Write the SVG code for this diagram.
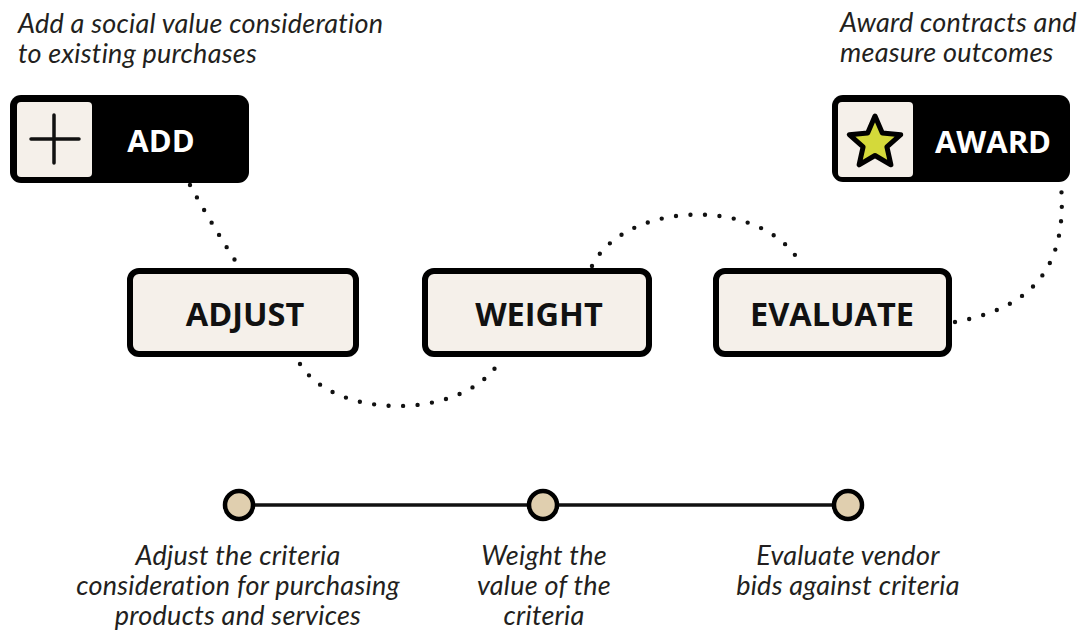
<svg xmlns="http://www.w3.org/2000/svg" width="1081" height="637" viewBox="0 0 1081 637">
<style>
.cap{font-family:"Lato","Open Sans",sans-serif;font-style:italic;font-size:27px;letter-spacing:0.25px;fill:#231f20}
.lbl{font-family:"Open Sans","Liberation Sans",sans-serif;font-weight:700;font-size:32.5px;fill:#111}
.wl{font-family:"Open Sans","Liberation Sans",sans-serif;font-weight:700;font-size:31px;fill:#fff}
.box{fill:#f5f0ea;stroke:#000;stroke-width:6}
.dark{fill:#000}
.icon{fill:#f5f0ea}
.dot{fill:none;stroke:#111;stroke-width:4.4;stroke-linecap:round;stroke-dasharray:0 14.5}
.tl{stroke:#111;stroke-width:3.5}
.tc{fill:#e0cfaf;stroke:#000;stroke-width:4.5}
</style>
<rect width="1081" height="637" fill="#fff"/>
<g id="connectors">
<path class="dot" d="M190,185 Q212,225 240,268"/>
<path class="dot" d="M300,364 C335,420 460,420 498,364"/>
<path class="dot" d="M592,266 C625,200 765,195 802,266"/>
<path class="dot" d="M955,322 C1030,308 1068,270 1061,185"/>
</g>
<g id="add">
<rect class="dark" x="10" y="95" width="239" height="88" rx="11"/>
<rect class="icon" x="17" y="102" width="75" height="75" rx="4"/>
<path d="M31,139H79M54,115V163" stroke="#111" stroke-width="3.5" stroke-linecap="round"/>
<text class="wl" x="161" y="152" text-anchor="middle">ADD</text>
</g>
<g id="award">
<rect class="dark" x="832" y="95" width="238" height="87" rx="11"/>
<rect class="icon" x="838" y="102" width="75" height="75" rx="4"/>
<polygon points="875,116 882.3,132.9 900.7,134.7 886.9,146.9 890.9,164.8 875,155.5 859.1,164.8 863.1,146.9 849.3,134.7 867.7,132.9" fill="#d4d93a" stroke="#000" stroke-width="5" stroke-linejoin="round"/>
<text class="wl" x="993" y="153" text-anchor="middle">AWARD</text>
</g>
<g id="adjust">
<rect class="box" x="130" y="271" width="226" height="83" rx="9"/>
<text class="lbl" x="245" y="326" text-anchor="middle">ADJUST</text>
</g>
<g id="weight">
<rect class="box" x="425" y="271" width="224" height="83" rx="9"/>
<text class="lbl" x="539" y="326" text-anchor="middle">WEIGHT</text>
</g>
<g id="evaluate">
<rect class="box" x="716" y="271" width="233" height="83" rx="9"/>
<text class="lbl" x="832" y="326" text-anchor="middle">EVALUATE</text>
</g>
<g id="caption-add">
<text class="cap" x="18" y="33">Add a social value consideration</text>
<text class="cap" x="18" y="63">to existing purchases</text>
</g>
<g id="caption-award">
<text class="cap" x="840" y="32">Award contracts and</text>
<text class="cap" x="840" y="62">measure outcomes</text>
</g>
<g id="timeline">
<line class="tl" x1="239" y1="505" x2="848" y2="505"/>
<circle class="tc" cx="239" cy="505" r="14"/>
<circle class="tc" cx="543" cy="505" r="14"/>
<circle class="tc" cx="848" cy="505" r="14"/>
</g>
<g id="caption-steps">
<text class="cap" text-anchor="middle" x="238" y="565">Adjust the criteria</text>
<text class="cap" text-anchor="middle" x="238" y="595">consideration for purchasing</text>
<text class="cap" text-anchor="middle" x="238" y="625">products and services</text>
<text class="cap" text-anchor="middle" x="544" y="565">Weight the</text>
<text class="cap" text-anchor="middle" x="544" y="595">value of the</text>
<text class="cap" text-anchor="middle" x="544" y="625">criteria</text>
<text class="cap" text-anchor="middle" x="848" y="565">Evaluate vendor</text>
<text class="cap" text-anchor="middle" x="848" y="595">bids against criteria</text>
</g>
</svg>
